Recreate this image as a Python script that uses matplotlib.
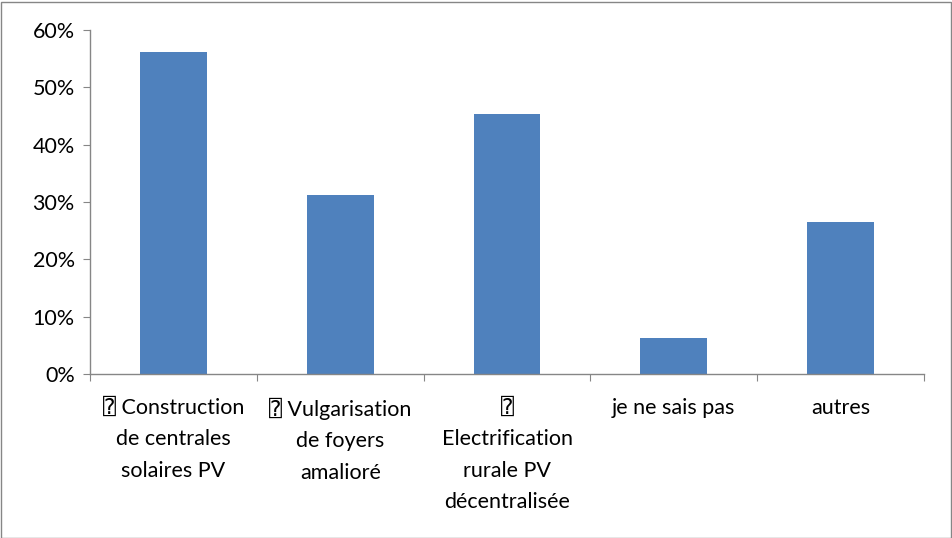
import matplotlib.pyplot as plt
import numpy as np
from matplotlib.ticker import PercentFormatter, FixedLocator
from matplotlib.patches import Rectangle

plt.rcParams['font.family'] = ['Lato', 'DejaVu Sans', 'DejaVu Sans Mono',
                               'Noto Sans CJK SC', 'Noto Sans']

# data
categories = [
    '\u2370 Construction\nde centrales\nsolaires PV',
    '\u2370 Vulgarisation\nde foyers\namalioré',
    '\u2370\nElectrification\nrurale PV\ndécentralisée',
    'je ne sais pas',
    'autres',
]
values = [0.5625, 0.3125, 0.4531, 0.0625, 0.2656]

bar_color = '#4f81bd'
axis_color = '#868686'

fig = plt.figure(figsize=(9.52, 5.38), dpi=100)
ax = fig.add_axes([90 / 952, 1 - 374 / 538, 834 / 952, 344 / 538])

x = np.arange(len(categories))
ax.bar(x, values, width=0.4, color=bar_color, zorder=2)

ax.set_xlim(-0.5, len(categories) - 0.5)
ax.set_ylim(0, 0.6)
ax.yaxis.set_major_locator(FixedLocator(np.arange(0, 0.61, 0.1)))
ax.yaxis.set_major_formatter(PercentFormatter(1.0, decimals=0))

# ticks at category boundaries, labels at centers
ax.set_xticks(np.arange(-0.5, len(categories)), minor=False)
ax.set_xticklabels([])
ax.set_xticks(x, minor=True)
ax.set_xticklabels(categories, minor=True, linespacing=1.72)
ax.tick_params(axis='x', which='minor', length=0, pad=17, labelsize=15.5)
ax.tick_params(axis='x', which='major', length=5, color=axis_color, direction='out')
ax.tick_params(axis='y', length=5, color=axis_color, labelsize=15.5, pad=6)
for lab in ax.get_xticklabels(minor=True):
    lab.set_verticalalignment('top')

for side in ['top', 'right']:
    ax.spines[side].set_visible(False)
for side in ['left', 'bottom']:
    ax.spines[side].set_color(axis_color)
    ax.spines[side].set_linewidth(1.0)

# outer chart border
fig.patches.append(Rectangle((0.5 / 952, 0.5 / 538), 950 / 952, 536 / 538,
                             transform=fig.transFigure, fill=False,
                             edgecolor=axis_color, linewidth=1.0))

fig.savefig('out.png', dpi=100)
